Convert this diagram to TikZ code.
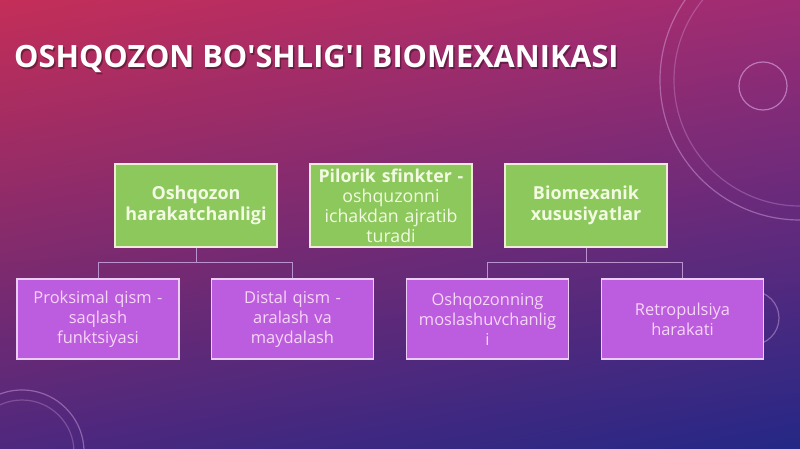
\documentclass[tikz,border=0pt]{standalone}
\usepackage{fontspec}
\setmainfont{Open Sans}[Ligatures=TeXOff]
\usetikzlibrary{calc,shadings}
\definecolor{bgUL}{RGB}{196,46,88}
\definecolor{bgUR}{RGB}{158,44,116}
\definecolor{bgLL}{RGB}{78,40,126}
\definecolor{bgLR}{RGB}{36,40,134}
\definecolor{grfill}{RGB}{140,200,92}
\definecolor{grline}{RGB}{238,236,214}
\definecolor{grtext}{RGB}{242,250,226}
\definecolor{pufill}{RGB}{188,92,222}
\definecolor{puline}{RGB}{236,206,244}
\definecolor{putext}{RGB}{246,214,246}
\definecolor{conn}{RGB}{186,146,208}
\definecolor{deco}{RGB}{220,170,230}
\tikzset{
  greenbox/.style={draw=grline, line width=1.3bp, fill=grfill, minimum width=162bp, minimum height=83bp,
    inner sep=1bp, text width=160bp, align=center, text=grtext, font=\fontsize{17.8}{20}\selectfont},
  purplebox/.style={draw=puline, line width=1.3bp, fill=pufill, minimum width=162bp, minimum height=80bp,
    inner sep=1bp, text width=160bp, align=center, text=putext, font=\fontsize{16.5}{20}\selectfont},
  connector/.style={draw=conn, line width=1bp},
  decoring/.style={draw=deco, line width=1.2bp, opacity=0.45}
}
\begin{document}
\begin{tikzpicture}[x=1bp,y=-1bp]
\useasboundingbox (0,0) rectangle (800,449);
\shade[upper left=bgUL, upper right=bgUR, lower left=bgLL, lower right=bgLR] (0,0) rectangle (800,449);
% decorative rings
\begin{scope}
\clip (0,0) rectangle (800,449);
\draw[decoring] (800,80) circle[radius=140];
\draw[decoring, opacity=0.3] (800,80) circle[radius=126];
\draw[decoring, opacity=0.6] (763,86) circle[radius=24];
\draw[decoring] (22,452) circle[radius=62];
\draw[decoring, opacity=0.3] (22,452) circle[radius=52];
\draw[decoring] (752,318) circle[radius=27];
\end{scope}
% title
\node[anchor=base west, inner sep=0, text=black, opacity=0.35, font=\fontsize{30.8}{34}\selectfont\bfseries] at (15.5,69.5) {OSHQOZON BO'SHLIG'I BIOMEXANIKASI};
\node[anchor=base west, inner sep=0, text=white, font=\fontsize{30.8}{34}\selectfont\bfseries] (title) at (14,68) {OSHQOZON BO'SHLIG'I BIOMEXANIKASI};
% top row
\node[greenbox, font=\fontsize{18}{20.5}\selectfont\bfseries] (g1) at (196,205.5) {Oshqozon\\harakatchanligi};
\node[greenbox] (g2) at (391,205.5) {\textbf{Pilorik sfinkter -}\\oshquzonni\\ichakdan ajratib\\turadi};
\node[greenbox, font=\fontsize{18}{20.5}\selectfont\bfseries] (g3) at (586,205.5) {Biomexanik\\xususiyatlar};
% bottom row
\node[purplebox] (p1) at (98,319) {Proksimal qism -\\saqlash\\funktsiyasi};
\node[purplebox] (p2) at (292.5,319) {Distal qism -\\aralash va\\maydalash};
\node[purplebox] (p3) at (487.5,319) {Oshqozonning\\moslashuvchanlig\\i};
\node[purplebox] (p4) at (682.5,319) {Retropulsiya\\harakati};
% connectors
\coordinate (j1) at ($(g1.south)+(0,15)$);
\coordinate (j3) at ($(g3.south)+(0,15)$);
\draw[connector] (g1.south) -- (j1) -| (p1.north);
\draw[connector] (j1) -| (p2.north);
\draw[connector] (g3.south) -- (j3) -| (p3.north);
\draw[connector] (j3) -| (p4.north);
\end{tikzpicture}
\end{document}
